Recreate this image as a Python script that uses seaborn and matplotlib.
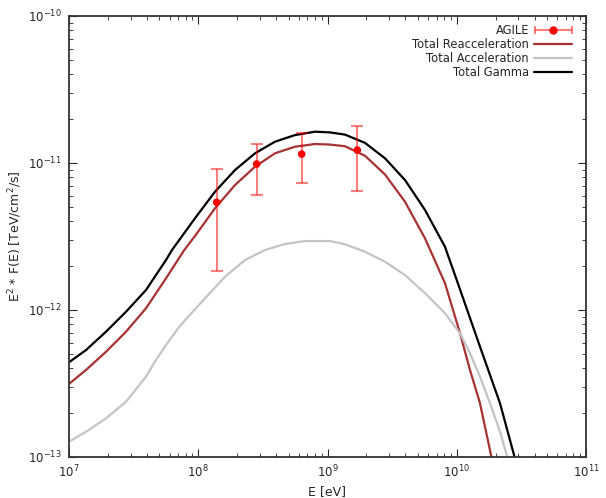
import numpy as np
import matplotlib
matplotlib.use("Agg")
import matplotlib.pyplot as plt
from matplotlib.lines import Line2D
from matplotlib.legend_handler import HandlerErrorbar
import seaborn as sns

# curves (E in eV, E^2 F in TeV/cm2/s)
gamma_E = [1.0e7, 1.354e7, 1.934e7, 2.761e7, 3.942e7, 5.630e7, 6.265e7, 9.44e7, 1.348e8,
           1.925e8, 2.749e8, 3.925e8, 5.606e8, 8.004e8, 1.045e9, 1.366e9, 1.951e9, 2.786e9,
           3.978e9, 5.681e9, 8.113e9, 1.060e10, 1.513e10, 2.161e10, 2.774e10, 2.873e10]
gamma_F = [4.41e-13, 5.34e-13, 7.12e-13, 9.73e-13, 1.368e-12, 2.188e-12, 2.56e-12, 4.21e-12, 6.38e-12,
           8.96e-12, 1.164e-11, 1.396e-11, 1.549e-11, 1.633e-11, 1.615e-11, 1.56e-11, 1.37e-11, 1.076e-11,
           7.66e-12, 4.79e-12, 2.69e-12, 1.38e-12, 5.63e-13, 2.32e-13, 1.032e-13, 9.25e-14]

reacc_E = [1.0e7, 1.354e7, 1.934e7, 2.761e7, 3.942e7, 5.630e7, 7.80e7, 9.44e7, 1.348e8,
           1.925e8, 2.749e8, 3.925e8, 5.606e8, 8.004e8, 1.045e9, 1.366e9, 1.951e9, 2.786e9,
           3.978e9, 5.681e9, 8.113e9, 1.060e10, 1.266e10, 1.513e10, 1.841e10, 1.891e10]
reacc_F = [3.14e-13, 3.91e-13, 5.20e-13, 7.12e-13, 1.027e-12, 1.643e-12, 2.56e-12, 3.19e-12, 4.92e-12,
           7.08e-12, 9.44e-12, 1.164e-11, 1.291e-11, 1.346e-11, 1.335e-11, 1.30e-11, 1.12e-11, 8.35e-12,
           5.45e-12, 3.07e-12, 1.52e-12, 6.94e-13, 3.91e-13, 2.32e-13, 1.032e-13, 9.25e-14]

acc_E = [1.0e7, 1.354e7, 1.934e7, 2.761e7, 3.942e7, 4.71e7, 5.630e7, 7.135e7, 9.06e7,
         1.128e8, 1.611e8, 2.300e8, 3.284e8, 4.692e8, 6.698e8, 1.045e9, 1.366e9, 1.951e9,
         2.786e9, 3.978e9, 5.681e9, 8.113e9, 1.060e10, 1.266e10, 1.513e10, 1.808e10,
         2.161e10, 2.435e10, 2.492e10]
acc_F = [1.271e-13, 1.486e-13, 1.833e-13, 2.377e-13, 3.52e-13, 4.57e-13, 5.78e-13, 7.70e-13, 9.73e-13,
         1.201e-12, 1.684e-12, 2.188e-12, 2.56e-12, 2.81e-12, 2.945e-12, 2.945e-12, 2.80e-12, 2.49e-12,
         2.13e-12, 1.73e-12, 1.30e-12, 9.50e-13, 6.94e-13, 5.07e-13, 3.52e-13, 2.32e-13,
         1.486e-13, 1.032e-13, 9.25e-14]

# AGILE points
agile_E = [1.39e8, 2.83e8, 6.31e8, 1.70e9]
agile_F = [5.4e-12, 9.84e-12, 1.15e-11, 1.225e-11]
agile_hi = [9.1e-12, 1.345e-11, 1.6e-11, 1.795e-11]
agile_lo = [1.84e-12, 6.05e-12, 7.34e-12, 6.49e-12]

reacc_col = "#a83232"
acc_col = "#c4c4c4"
bar_col = (1, 0, 0, 0.5)

sns.set_style("ticks")
plt.rcParams["font.family"] = ["DejaVu Sans"]

fig = plt.figure(figsize=(6.06, 4.98), dpi=100)
ax = fig.add_axes([69/606, 1-457/498, (586-69)/606, (457-16)/498])

ax.errorbar(agile_E, agile_F,
            yerr=[np.array(agile_F) - np.array(agile_lo), np.array(agile_hi) - np.array(agile_F)],
            fmt="none", ecolor=bar_col, elinewidth=1.5, capsize=4, capthick=1.5, zorder=4)
sns.scatterplot(x=agile_E, y=agile_F, color="red", s=30, edgecolor="none", ax=ax, zorder=5)

sns.lineplot(x=reacc_E, y=reacc_F, color=reacc_col, lw=1.6, ax=ax, sort=False)
sns.lineplot(x=acc_E, y=acc_F, color=acc_col, lw=1.6, ax=ax, sort=False)
sns.lineplot(x=gamma_E, y=gamma_F, color="black", lw=1.6, ax=ax, sort=False)

ax.set_xscale("log")
ax.set_yscale("log")
ax.set_xlim(1e7, 1e11)
ax.set_ylim(1e-13, 1e-10)

ax.tick_params(which="both", direction="in", top=True, right=True, labelsize=8.5)
ax.tick_params(which="major", length=6, pad=5)
ax.tick_params(which="minor", length=3)
for s in ax.spines.values():
    s.set_linewidth(1.3)
    s.set_color("#333333")

ax.set_xlabel("E [eV]", fontsize=9, labelpad=3)
ax.set_ylabel("E$^2$ * F(E) [TeV/cm$^2$/s]", fontsize=9, labelpad=3)

# legend entry for AGILE drawn gnuplot-like: horizontal bar with a dot
leg_agile = ax.errorbar([np.nan], [np.nan], xerr=[np.nan], fmt="o", color="red", ms=5,
                        ecolor=bar_col, elinewidth=1.5, capsize=3, capthick=1.5)
handles = [
    leg_agile,
    Line2D([], [], color=reacc_col, lw=1.6),
    Line2D([], [], color=acc_col, lw=1.6),
    Line2D([], [], color="black", lw=1.6),
]
labels = ["AGILE", "Total Reacceleration", "Total Acceleration", "Total Gamma"]
ax.legend(handles, labels, loc="upper right", bbox_to_anchor=(1.0, 1.014), frameon=False,
          markerfirst=False, fontsize=8.3, handlelength=3.3, handletextpad=0.45,
          labelspacing=0.1, borderaxespad=0.8,
          handler_map={type(leg_agile): HandlerErrorbar(xerr_size=1.6)})

plt.savefig("out.png", dpi=100)
